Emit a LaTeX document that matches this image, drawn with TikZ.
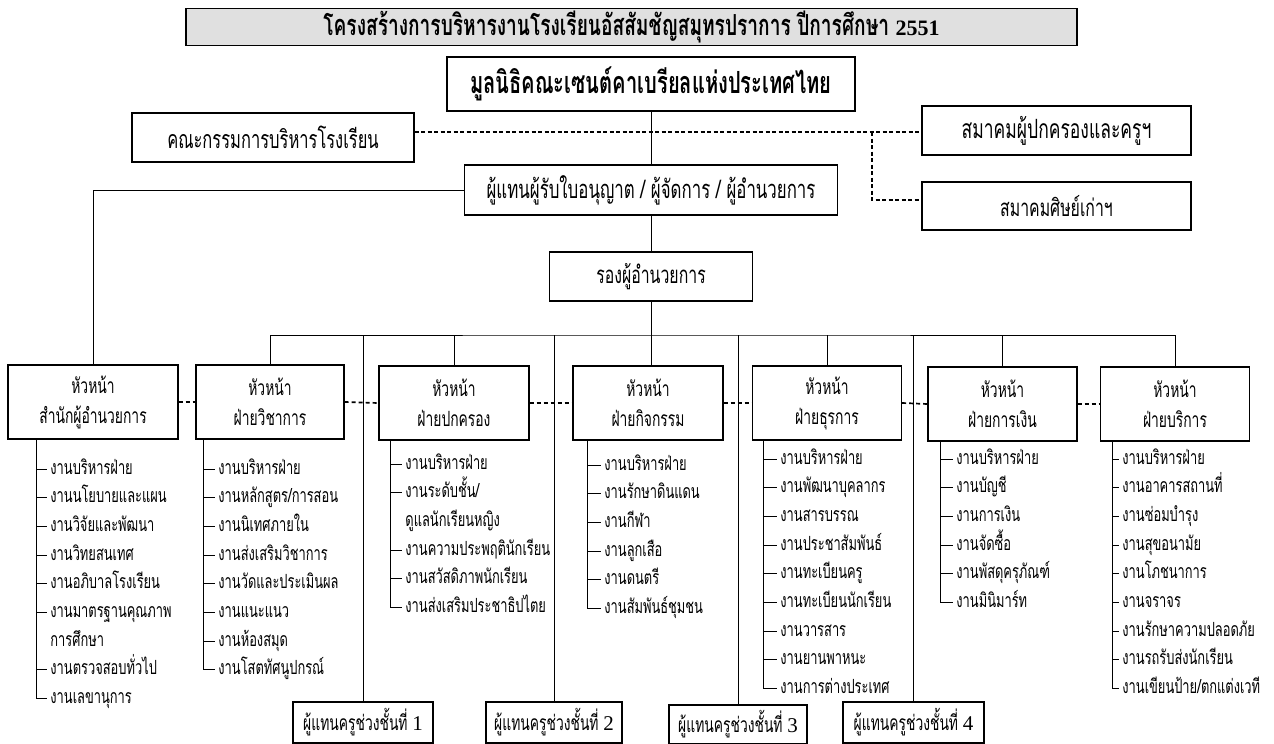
\documentclass[tikz,border=0pt]{standalone}
\usepackage{fontspec}
\setmainfont[Script=Thai,FakeStretch=0.66]{Loma}
\newfontfamily\tnr{Liberation Serif}
\usetikzlibrary{positioning}

\begin{document}
\begin{tikzpicture}[x=1pt,y=-1pt,line width=0.9pt,
	node distance=13.8pt,
	box/.style={draw,line width=1.1pt,inner sep=0pt,align=center},
	office/.style={box,minimum height=50pt,font=\fontsize{24}{28}\selectfont},
	head/.style={box,minimum height=74pt,font=\fontsize{21}{30}\selectfont},
	rep/.style={box,minimum height=41pt,font=\fontsize{21}{24}\selectfont},
	job/.style={inner xsep=3pt,inner ysep=0pt,text height=12pt,text depth=2pt,anchor=west,font=\fontsize{19.5}{22}\selectfont},
	nextjob/.style={job,below=of #1.south west,anchor=north west},
	dotlink/.style={line width=2.4pt,dash pattern=on 4pt off 2.5pt},
	split/.style={line width=1.7pt,dash pattern=on 4pt off 3pt}]
\useasboundingbox (0,0) rectangle (1274,744);

\node[box,fill=black!12,minimum width=891pt,minimum height=37pt,font=\fontsize{29}{32}\selectfont\bfseries] (title) at (631.5,27)
	{โครงสร้างการบริหารงานโรงเรียนอัสสัมชัญสมุทรปราการ ปีการศึกษา {\tnr\bfseries\fontsize{22}{26}\selectfont 2551}};
\node[box,minimum width=408pt,minimum height=54pt,font=\fontsize{30.5}{34}\selectfont\bfseries] (fnd) at (651,84)
	{มูลนิธิคณะเซนต์คาเบรียลแห่งประเทศไทย};
\node[office,minimum width=282pt,minimum height=49pt,font=\fontsize{25}{28}\selectfont] (com) at (273,137.5) {คณะกรรมการบริหารโรงเรียน};
\node[office,minimum width=269pt,minimum height=49pt,font=\fontsize{26.5}{30}\selectfont] (par) at (1056.5,130.5) {สมาคมผู้ปกครองและครูฯ};
\node[office,minimum width=269pt,minimum height=48pt] (alm) at (1056.5,206) {สมาคมศิษย์เก่าฯ};
\node[office,minimum width=373pt,font=\fontsize{25.5}{28}\selectfont] (mgr) at (651,190) {ผู้แทนผู้รับใบอนุญาต / ผู้จัดการ / ผู้อำนวยการ};
\node[office,minimum width=203pt,minimum height=49pt] (dep) at (651,276.5) {รองผู้อำนวยการ};

\node[head,minimum width=170pt] (h1) at (93,402) {หัวหน้า\\สำนักผู้อำนวยการ};
\node[head,minimum width=148pt] (h2) at (270,402) {หัวหน้า\\ฝ่ายวิชาการ};
\node[head,minimum width=150pt] (h3) at (454,403) {หัวหน้า\\ฝ่ายปกครอง};
\node[head,minimum width=150pt] (h4) at (648,403) {หัวหน้า\\ฝ่ายกิจกรรม};
\node[head,minimum width=149pt] (h5) at (827,403) {หัวหน้า\\ฝ่ายธุรการ};
\node[head,minimum width=149pt] (h6) at (1002.5,404) {หัวหน้า\\ฝ่ายการเงิน};
\node[head,minimum width=149pt] (h7) at (1175,404) {หัวหน้า\\ฝ่ายบริการ};

\node[rep,minimum width=140pt] (r1) at (363,722.5) {ผู้แทนครูช่วงชั้นที่ {\tnr 1}};
\node[rep,minimum width=136pt] (r2) at (554,722.5) {ผู้แทนครูช่วงชั้นที่ {\tnr 2}};
\node[rep,minimum width=138pt,minimum height=39pt] (r3) at (738,724.5) {ผู้แทนครูช่วงชั้นที่ {\tnr 3}};
\node[rep,minimum width=141pt] (r4) at (913.5,722.5) {ผู้แทนครูช่วงชั้นที่ {\tnr 4}};

\node[job] (a1) at (47,469) {งานบริหารฝ่าย};
\node[nextjob=a1] (a2) {งานนโยบายและแผน};
\node[nextjob=a2] (a3) {งานวิจัยและพัฒนา};
\node[nextjob=a3] (a4) {งานวิทยสนเทศ};
\node[nextjob=a4] (a5) {งานอภิบาลโรงเรียน};
\node[nextjob=a5] (a6) {งานมาตรฐานคุณภาพ};
\node[nextjob=a6] (a7) {การศึกษา};
\node[nextjob=a7] (a8) {งานตรวจสอบทั่วไป};
\node[nextjob=a8] (a9) {งานเลขานุการ};

\node[job] (b1) at (215,469) {งานบริหารฝ่าย};
\node[nextjob=b1] (b2) {งานหลักสูตร/การสอน};
\node[nextjob=b2] (b3) {งานนิเทศภายใน};
\node[nextjob=b3] (b4) {งานส่งเสริมวิชาการ};
\node[nextjob=b4] (b5) {งานวัดและประเมินผล};
\node[nextjob=b5] (b6) {งานแนะแนว};
\node[nextjob=b6] (b7) {งานห้องสมุด};
\node[nextjob=b7] (b8) {งานโสตทัศนูปกรณ์};

\node[job] (c1) at (402,464) {งานบริหารฝ่าย};
\node[nextjob=c1] (c2) {งานระดับชั้น/};
\node[nextjob=c2] (c3) {ดูแลนักเรียนหญิง};
\node[nextjob=c3] (c4) {งานความประพฤตินักเรียน};
\node[nextjob=c4] (c5) {งานสวัสดิภาพนักเรียน};
\node[nextjob=c5] (c6) {งานส่งเสริมประชาธิปไตย};

\node[job] (d1) at (601,465) {งานบริหารฝ่าย};
\node[nextjob=d1] (d2) {งานรักษาดินแดน};
\node[nextjob=d2] (d3) {งานกีฬา};
\node[nextjob=d3] (d4) {งานลูกเสือ};
\node[nextjob=d4] (d5) {งานดนตรี};
\node[nextjob=d5] (d6) {งานสัมพันธ์ชุมชน};

\node[job] (e1) at (777,459) {งานบริหารฝ่าย};
\node[nextjob=e1] (e2) {งานพัฒนาบุคลากร};
\node[nextjob=e2] (e3) {งานสารบรรณ};
\node[nextjob=e3] (e4) {งานประชาสัมพันธ์};
\node[nextjob=e4] (e5) {งานทะเบียนครู};
\node[nextjob=e5] (e6) {งานทะเบียนนักเรียน};
\node[nextjob=e6] (e7) {งานวารสาร};
\node[nextjob=e7] (e8) {งานยานพาหนะ};
\node[nextjob=e8] (e9) {งานการต่างประเทศ};

\node[job] (f1) at (953,459) {งานบริหารฝ่าย};
\node[nextjob=f1] (f2) {งานบัญชี};
\node[nextjob=f2] (f3) {งานการเงิน};
\node[nextjob=f3] (f4) {งานจัดซื้อ};
\node[nextjob=f4] (f5) {งานพัสดุครุภัณฑ์};
\node[nextjob=f5] (f6) {งานมินิมาร์ท};

\node[job] (g1) at (1119,459) {งานบริหารฝ่าย};
\node[nextjob=g1] (g2) {งานอาคารสถานที่};
\node[nextjob=g2] (g3) {งานซ่อมบำรุง};
\node[nextjob=g3] (g4) {งานสุขอนามัย};
\node[nextjob=g4] (g5) {งานโภชนาการ};
\node[nextjob=g5] (g6) {งานจราจร};
\node[nextjob=g6] (g7) {งานรักษาความปลอดภัย};
\node[nextjob=g7] (g8) {งานรถรับส่งนักเรียน};
\node[nextjob=g8] (g9) {งานเขียนป้าย/ตกแต่งเวที};

\coordinate (bus) at (651,335);
\coordinate (jn) at (872,132);
\coordinate (la) at ([xshift=29pt]h1.south west);
\coordinate (lb) at ([xshift=8pt]h2.south west);
\coordinate (lc) at ([xshift=12pt]h3.south west);
\coordinate (ld) at ([xshift=15pt]h4.south west);
\coordinate (le) at ([xshift=11pt]h5.south west);
\coordinate (lf) at ([xshift=13pt]h6.south west);
\coordinate (lg) at ([xshift=12.5pt]h7.south west);

\draw (fnd.south) -- (mgr.north);
\draw (mgr.south) -- (dep.north);
\draw (dep.south) -- (dep.south |- h4.north);
\draw (mgr.west) -| (h1.north);
\draw (h2.north) |- (bus) -| (h7.north);
\draw (bus -| h3.north) -- (h3.north);
\draw (bus -| h5.north) -- (h5.north);
\draw (bus -| h6.north) -- (h6.north);
\draw (bus -| r1.north) -- (r1.north);
\draw (bus -| r2.north) -- (r2.north);
\draw (bus -| r3.north) -- (r3.north);
\draw (bus -| r4.north) -- (r4.north);

\draw[dotlink] (com.east |- jn) -- (jn -| par.west);
\draw[dotlink] (jn) |- ([yshift=6pt]alm.west);

\draw[split] (h1.east) -- (h2.west);
\draw[split] (h2.east) -- (h3.west);
\draw[split] (h3.east) -- (h4.west);
\draw[split] (h4.east) -- (h5.west);
\draw[split] (h5.east) -- (h6.west);
\draw[split] (h6.east) -- (h7.west);

\draw (la) |- (a9.west);
\foreach \i in {1,...,6,8} \draw (la |- a\i.west) -- (a\i.west);
\draw (lb) |- (b8.west);
\foreach \i in {1,...,7} \draw (lb |- b\i.west) -- (b\i.west);
\draw (lc) |- (c6.west);
\foreach \i in {1,2,4,5} \draw (lc |- c\i.west) -- (c\i.west);
\draw (ld) |- (d6.west);
\foreach \i in {1,...,5} \draw (ld |- d\i.west) -- (d\i.west);
\draw (le) |- (e9.west);
\foreach \i in {1,...,8} \draw (le |- e\i.west) -- (e\i.west);
\draw (lf) |- (f6.west);
\foreach \i in {1,...,5} \draw (lf |- f\i.west) -- (f\i.west);
\draw (lg) |- (g9.west);
\foreach \i in {1,...,8} \draw (lg |- g\i.west) -- (g\i.west);
\end{tikzpicture}
\end{document}
